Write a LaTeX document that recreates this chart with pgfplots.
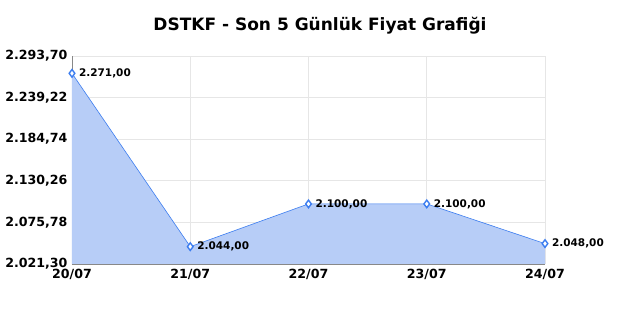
\documentclass[border=0pt]{standalone}
\usepackage{pgfplots}
\pgfplotsset{compat=1.18}
\usepackage{fontspec}
\setmainfont{DejaVu Sans}
\definecolor{fillb}{HTML}{B7CDF7}
\definecolor{lineb}{HTML}{3C7DF0}
\definecolor{gridc}{HTML}{E6E6E6}
\definecolor{axc}{HTML}{888888}
\begin{document}
\begin{tikzpicture}[x=1pt,y=1pt]
\path[fill=white] (0,0) rectangle (640,320);
\node[font=\fontsize{17}{19}\selectfont\bfseries] at (320,294) {DSTKF - Son 5 Günlük Fiyat Grafiği};
\begin{axis}[
  at={(72pt,56pt)}, anchor=south west,
  scale only axis, width=473pt, height=208pt,
  xmin=0, xmax=4, ymin=2021.30, ymax=2293.70,
  xtick={0,1,2,3,4},
  xticklabels={20/07,21/07,22/07,23/07,24/07},
  ytick={2021.30,2075.78,2130.26,2184.74,2239.22,2293.70},
  yticklabels={{2.021,30},{2.075,78},{2.130,26},{2.184,74},{2.239,22},{2.293,70}},
  grid=major, grid style={gridc, line width=0.8pt},
  axis x line*=bottom, axis y line*=left,
  axis line style={axc, line width=0.8pt, -},
  tick style={draw=none},
  ticklabel style={font=\fontsize{12.6}{15}\selectfont\bfseries},
  xticklabel style={yshift=-2pt},
  yticklabel style={xshift=-1pt},
  clip=false,
]
\addplot[fill=fillb, draw=none] coordinates {(0,2271) (1,2044) (2,2100) (3,2100) (4,2048)} \closedcycle;
\addplot[lineb, line width=0.6pt, mark=diamond*, mark size=3.8pt,
  mark options={fill=white, draw=lineb, line width=1.4pt},
  nodes near coords, point meta=explicit symbolic,
  every node near coord/.append style={anchor=west, font=\fontsize{10.5}{12}\selectfont\bfseries, xshift=3pt, yshift=0pt, text=black}]
  coordinates {(0,2271) [2.271,00] (1,2044) [2.044,00] (2,2100) [2.100,00] (3,2100) [2.100,00] (4,2048) [2.048,00]};
\end{axis}
\end{tikzpicture}
\end{document}
